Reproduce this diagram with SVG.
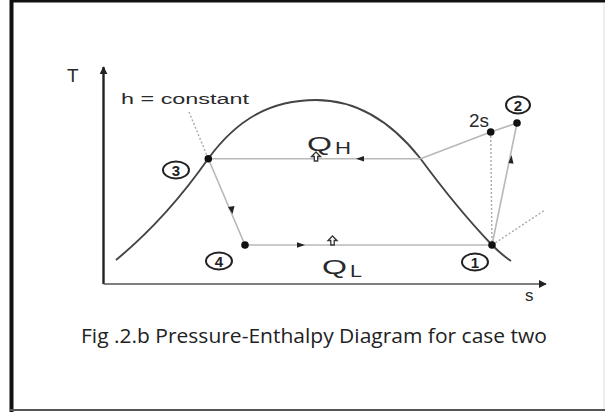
<svg xmlns="http://www.w3.org/2000/svg" width="605" height="412" viewBox="0 0 605 412">
<defs>
<style>
.lbl{font-family:"Liberation Sans",Arial,sans-serif;fill:#2a2a2a}
.cyc{stroke:#b8b8b8;stroke-width:1.6;fill:none}
.dot{fill:#111}
.num{fill:none;stroke:#222;stroke-width:2}
.dig{font-family:"Liberation Sans",Arial,sans-serif;font-size:15px;font-weight:bold;fill:#222;text-anchor:middle}
.hol{fill:#fff;stroke:#333;stroke-width:1.3}
.dash{stroke:#aaa;stroke-width:1.4;stroke-dasharray:2 2;fill:none}
</style>
<marker id="ah" viewBox="0 0 10 10" refX="9" refY="5" markerWidth="8" markerHeight="8" orient="auto-start-reverse" markerUnits="userSpaceOnUse"><path d="M0,0 L10,5 L0,10 z" fill="#222"/></marker>
</defs>
<rect width="605" height="412" fill="#fff"/>
<!-- frame -->
<rect x="10" y="0" width="595" height="2.5" fill="#111"/>
<rect x="9.5" y="0" width="4" height="412" fill="#111"/>
<rect x="10" y="409" width="595" height="2" fill="#555"/>
<rect x="603.5" y="3" width="1" height="406" fill="#ddd"/>
<!-- axes -->
<g id="axes" stroke="#222" stroke-width="2.4" fill="none">
<line x1="103.5" y1="284" x2="103.5" y2="67" marker-end="url(#ah)"/>
<line x1="103.5" y1="284" x2="546" y2="284" stroke="#555" stroke-width="1.6" marker-end="url(#ah)"/>
</g>
<text class="lbl" x="67" y="82" font-size="19">T</text>
<text class="lbl" x="525" y="301" font-size="17">s</text>
<!-- saturation dome -->
<path id="dome" d="M116,260 C150,232 182,196 208,159 C238,118 272,100 316,100 C360,100 393,124 420,158 C448,196 470,222 492,245 C499,252 505,257 511,261" fill="none" stroke="#444" stroke-width="1.9"/>
<g id="connectors">
<line class="cyc" x1="420.5" y1="158.7" x2="208.3" y2="158.7"/>
<path d="M364,156 L356,158.7 L364,161.4 z" fill="#222"/>
<polyline class="cyc" points="420.5,158.7 490.7,132 517,123"/>
<line class="cyc" x1="208.3" y1="158.7" x2="245" y2="245"/>
<path d="M228,207 L234.5,206 L232.5,214 z" fill="#222"/>
<line class="cyc" x1="245" y1="245" x2="492" y2="245"/>
<path d="M297,242.3 L305,245 L297,247.7 z" fill="#222"/>
<line class="cyc" x1="492" y1="245" x2="517" y2="123"/>
<path d="M508.5,163 L511.5,155 L513.5,163.8 z" fill="#222"/>
<line class="dash" x1="490.7" y1="132" x2="492" y2="245"/>
<line class="dash" x1="492" y1="245" x2="545" y2="210"/>
<line class="dash" x1="189" y1="112" x2="208" y2="158"/>
</g>
<!-- heat arrows -->
<path class="hol" d="M316,152 L311.5,156.5 L314.3,156.5 L314.3,161 L317.7,161 L317.7,156.5 L320.5,156.5 z"/>
<path class="hol" d="M332.5,236 L328,240.5 L330.8,240.5 L330.8,245 L334.2,245 L334.2,240.5 L337,240.5 z"/>
<text class="lbl" x="307" y="151" font-size="21" textLength="25" lengthAdjust="spacingAndGlyphs">Q</text>
<text class="lbl" x="335" y="154" font-size="16" textLength="16" lengthAdjust="spacingAndGlyphs">H</text>
<text class="lbl" x="322" y="274" font-size="21" textLength="25" lengthAdjust="spacingAndGlyphs">Q</text>
<text class="lbl" x="350" y="277" font-size="16" textLength="12" lengthAdjust="spacingAndGlyphs">L</text>
<text class="lbl" x="121" y="104" font-size="14" textLength="128" lengthAdjust="spacingAndGlyphs">h = constant</text>
<text class="lbl" x="469" y="127" font-size="18" textLength="20" lengthAdjust="spacingAndGlyphs">2s</text>
<g id="p3"><circle class="dot" cx="208.3" cy="158.7" r="3.8"/><ellipse class="num" cx="176" cy="170" rx="13" ry="8.5"/><text class="dig" x="176" y="175.5">3</text></g>
<g id="p4"><circle class="dot" cx="245" cy="245" r="3.8"/><ellipse class="num" cx="219" cy="261" rx="13" ry="8.5"/><text class="dig" x="219" y="266.5">4</text></g>
<g id="p1"><circle class="dot" cx="492" cy="245" r="3.8"/><ellipse class="num" cx="475" cy="262" rx="13" ry="8.5"/><text class="dig" x="475" y="267.5">1</text></g>
<g id="p2s"><circle class="dot" cx="490.7" cy="132" r="3.8"/></g>
<g id="p2"><circle class="dot" cx="517" cy="123" r="3.8"/><ellipse class="num" cx="518" cy="105" rx="12" ry="8.5"/><text class="dig" x="518" y="110.5">2</text></g>
<text x="81" y="343" font-family="'Open Sans','Liberation Sans',sans-serif" font-size="20" fill="#222" textLength="466" lengthAdjust="spacingAndGlyphs">Fig .2.b Pressure-Enthalpy Diagram for case two</text>
</svg>
